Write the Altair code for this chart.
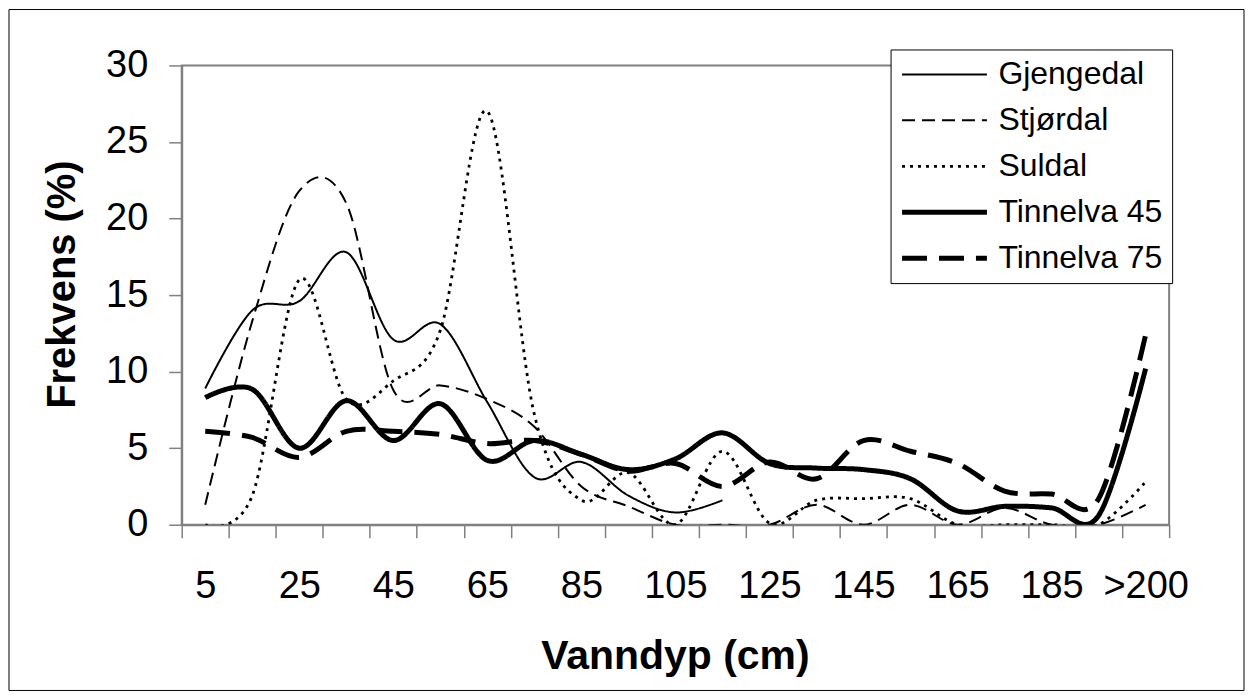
import altair as alt
import pandas as pd

categories = ["5", "15", "25", "35", "45", "55", "65", "75", "85", "95", "105",
              "115", "125", "135", "145", "155", "165", "175", "185", "195", ">200"]
series_names = ["Gjengedal", "Stjørdal", "Suldal", "Tinnelva 45", "Tinnelva 75"]

gjengedal = [8.9, 14.0, 14.6, 17.8, 12.1, 13.1, 8.0, 3.1, 4.1, 1.9, 0.8, 1.6] + [None] * 9
stjordal = [1.3, 13.3, 21.8, 21.0, 8.8, 9.1, 8.2, 6.4, 2.5, 1.2, 0, 0, 0, 1.3, 0, 1.3, 0, 1.1, 0, 0, 1.3]
suldal = [0, 1.9, 16.0, 8.2, 9.4, 12.7, 27.0, 7.2, 1.6, 3.4, 0, 4.8, 0.1, 1.6, 1.7, 1.7, 0, 0, 0, 0, 2.8]
tinnelva45 = [8.3, 8.85, 5.0, 8.1, 5.5, 7.9, 4.2, 5.5, 4.6, 3.6, 4.3, 6.0, 4.0, 3.7, 3.6, 3.0, 0.9, 1.2, 1.1, 0.6, 10.2]
tinnelva75 = [6.1, 5.7, 4.4, 6.1, 6.1, 5.9, 5.3, 5.5, 4.6, 3.5, 4.0, 2.5, 4.1, 3.0, 5.5, 4.8, 4.0, 2.2, 2.0, 1.7, 12.4]

series_values = [gjengedal, stjordal, suldal, tinnelva45, tinnelva75]
dash_styles = [[1, 0], [13, 7], [3, 5], [1, 0], [25, 12]]
line_widths = [2, 2, 2.8, 5, 5]

rows = []
for name, vals in zip(series_names, series_values):
    for i, v in enumerate(vals):
        if v is not None:
            rows.append({"Vanndyp": categories[i], "idx": i, "series": name, "value": v})
df = pd.DataFrame(rows)

FONT = "Liberation Sans"
GRAY = "#808080"
shown = categories[0::2]
label_expr = "indexof([" + ",".join("'%s'" % s for s in shown) + "], datum.value) >= 0 ? datum.label : ''"

legend = alt.Legend(
    title=None, orient="none", legendX=710, legendY=-16,
    symbolType="stroke", symbolSize=7225, symbolStrokeColor="black",
    labelFontSize=32, labelFont=FONT, labelColor="black", labelLimit=400,
    labelOffset=9, rowPadding=14, padding=9, clipHeight=32,
    strokeColor="black", fillColor="white",
)

lines = alt.Chart(df).mark_line(interpolate="cardinal", stroke="black", clip=True).encode(
    x=alt.X("Vanndyp:N", bandPosition=0.5,
            scale=alt.Scale(type="band", domain=categories, paddingInner=0, paddingOuter=0),
            axis=alt.Axis(tickBand="extent", labelExpr=label_expr, labelAngle=0, labelOverlap=False,
                          tickSize=13, tickColor=GRAY, tickWidth=1.5,
                          domainColor=GRAY, domainWidth=2,
                          labelFontSize=38, labelPadding=30, labelColor="black",
                          title="Vanndyp (cm)", titleFontSize=41, titleFontWeight="bold",
                          titleX=494, titleY=144, titleBaseline="alphabetic", titleAlign="center")),
    y=alt.Y("value:Q", scale=alt.Scale(domain=[0, 30], nice=False),
            axis=alt.Axis(values=[0, 5, 10, 15, 20, 25, 30], grid=False,
                          tickSize=13, tickColor=GRAY, tickWidth=1.5,
                          domainColor=GRAY, domainWidth=2,
                          labelFontSize=38, labelPadding=21, labelColor="black",
                          title="Frekvens (%)", titleFontSize=40, titleFontWeight="bold",
                          titleX=-107, titleY=219, titleAngle=270,
                          titleBaseline="alphabetic", titleAlign="center")),
    strokeDash=alt.StrokeDash("series:O", sort=series_names,
                              scale=alt.Scale(domain=series_names, range=dash_styles),
                              legend=legend),
    strokeWidth=alt.StrokeWidth("series:O", sort=series_names,
                                scale=alt.Scale(type="ordinal", domain=series_names, range=line_widths),
                                legend=legend),
    order=alt.Order("idx:Q"),
)

frame = alt.Chart(pd.DataFrame({"f": [0]})).mark_rect(
    fill="transparent", stroke="black", strokeWidth=1
).encode(x=alt.value(-173), x2=alt.value(1064), y=alt.value(-56), y2=alt.value(626))

chart = alt.layer(lines, frame).properties(
    width=989, height=460,
    padding={"left": 8, "top": 8, "right": 8, "bottom": 8},
    background="white",
).configure_view(
    stroke=GRAY, strokeWidth=2
).configure_axis(
    labelFont=FONT, titleFont=FONT, titleColor="black"
).configure_legend(
    labelFont=FONT
)

chart.save("out.html", embed_options={"renderer": "svg", "actions": False})
